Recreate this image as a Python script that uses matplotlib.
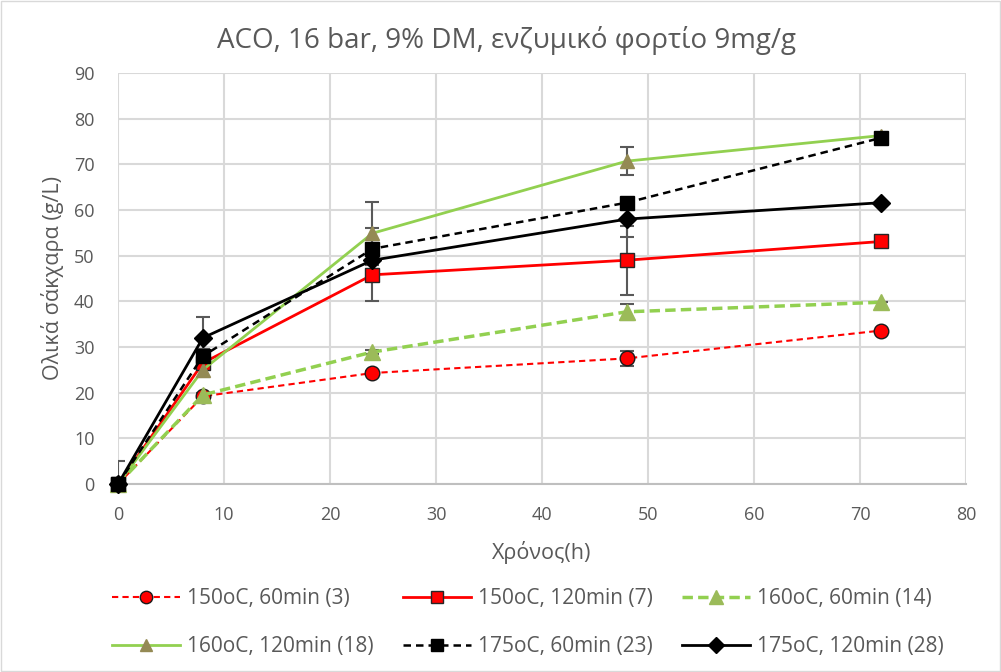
import matplotlib.pyplot as plt
import numpy as np

plt.rcParams['font.family'] = ['Open Sans', 'DejaVu Sans']

t = [0, 8, 24, 48, 72]
s150_60 = [0, 19.2, 24.3, 27.5, 33.6]
s150_120 = [0, 26.5, 45.8, 49.0, 53.1]
s160_60 = [0, 19.5, 28.9, 37.7, 39.8]
s160_120 = [0, 25.0, 54.9, 70.7, 76.3]
s175_60 = [0, 28.0, 51.5, 61.6, 75.8]
s175_120 = [0, 32.0, 49.0, 58.0, 61.6]

e150_60 = [0, 0.5, 0.5, 1.7, 0]
e150_120 = [0, 1.0, 5.7, 7.6, 0]
e160_60 = [0, 0.5, 0.5, 1.8, 0]
e160_120 = [0, 1.5, 6.9, 3.0, 0]
e175_60 = [5.0, 1.5, 4.5, 0, 0]
e175_120 = [0, 4.5, 1.0, 4.0, 0]

labels = ['150oC, 60min (3)', '150oC, 120min (7)', '160oC, 60min (14)',
          '160oC, 120min (18)', '175oC, 60min (23)', '175oC, 120min (28)']

fig = plt.figure(figsize=(10.01, 6.72), dpi=100)
ax = fig.add_axes([0.118, 0.2798, 0.847, 0.6116])
txt = '#595959'

series = [
    (s150_60, e150_60, dict(color='#FF0000', ls=(0, (3, 2)), lw=1.5, marker='o', ms=10.5, mfc='#FF0000', mec='#1a1a1a')),
    (s150_120, e150_120, dict(color='#FF0000', ls='-', lw=2, marker='s', ms=10, mfc='#FF0000', mec='#262626')),
    (s160_60, e160_60, dict(color='#92D050', ls=(0, (3, 1.5)), lw=2.5, marker='^', ms=11.5, mfc='#9BBB59', mec='#9BBB59')),
    (s160_120, e160_120, dict(color='#92D050', ls='-', lw=2, marker='^', ms=10, mfc='#948A54', mec='#948A54')),
    (s175_60, e175_60, dict(color='black', ls=(0, (3, 2)), lw=1.8, marker='s', ms=10, mfc='black', mec='black')),
    (s175_120, e175_120, dict(color='black', ls='-', lw=2, marker='D', ms=9, mfc='black', mec='black')),
]

handles = []
for (y, e, kw), lab in zip(series, labels):
    ax.errorbar(t, y, yerr=e, fmt='none', ecolor='#595959', elinewidth=1.5, capsize=5, capthick=1.5, zorder=3)
    h, = ax.plot(t, y, label=lab, zorder=4, clip_on=False, **kw)
    handles.append(h)

ax.set_xlim(0, 80)
ax.set_ylim(0, 90)
ax.set_xticks(np.arange(0, 81, 10))
ax.set_yticks(np.arange(0, 91, 10))
ax.grid(True, color='#D9D9D9', lw=1.5)
ax.set_axisbelow(True)
for sp in ['top', 'right', 'left']:
    ax.spines[sp].set_visible(False)
ax.spines['bottom'].set_color('#BFBFBF')
ax.spines['bottom'].set_linewidth(1.5)
ax.tick_params(length=0, labelsize=13, colors=txt)
ax.tick_params(axis='y', pad=17)
ax.tick_params(axis='x', pad=16)

fig.text(0.506, 0.94, 'ACO, 16 bar, 9% DM, ενζυμικό φορτίο 9mg/g', fontsize=20, color=txt,
         ha='center', va='center')
ax.set_xlabel('Χρόνος(h)', fontsize=15.5, color=txt, labelpad=12)
ax.set_ylabel('Ολικά σάκχαρα (g/L)', fontsize=15.5, color=txt, labelpad=7)

order = [0, 3, 1, 4, 2, 5]
fig.legend([handles[i] for i in order], [labels[i] for i in order],
           loc='upper left', bbox_to_anchor=(0.112, 0.125), ncol=3,
           frameon=False, fontsize=15, labelcolor=txt, handlelength=3.26,
           handletextpad=0.34, columnspacing=1.4, labelspacing=1.3,
           borderpad=0, borderaxespad=0, markerscale=0.85)

fig.patches.append(plt.Rectangle((0.001, 0.001), 0.998, 0.998, transform=fig.transFigure,
                                 fill=False, edgecolor='#D9D9D9', lw=1))

fig.savefig('out.png', dpi=100)
